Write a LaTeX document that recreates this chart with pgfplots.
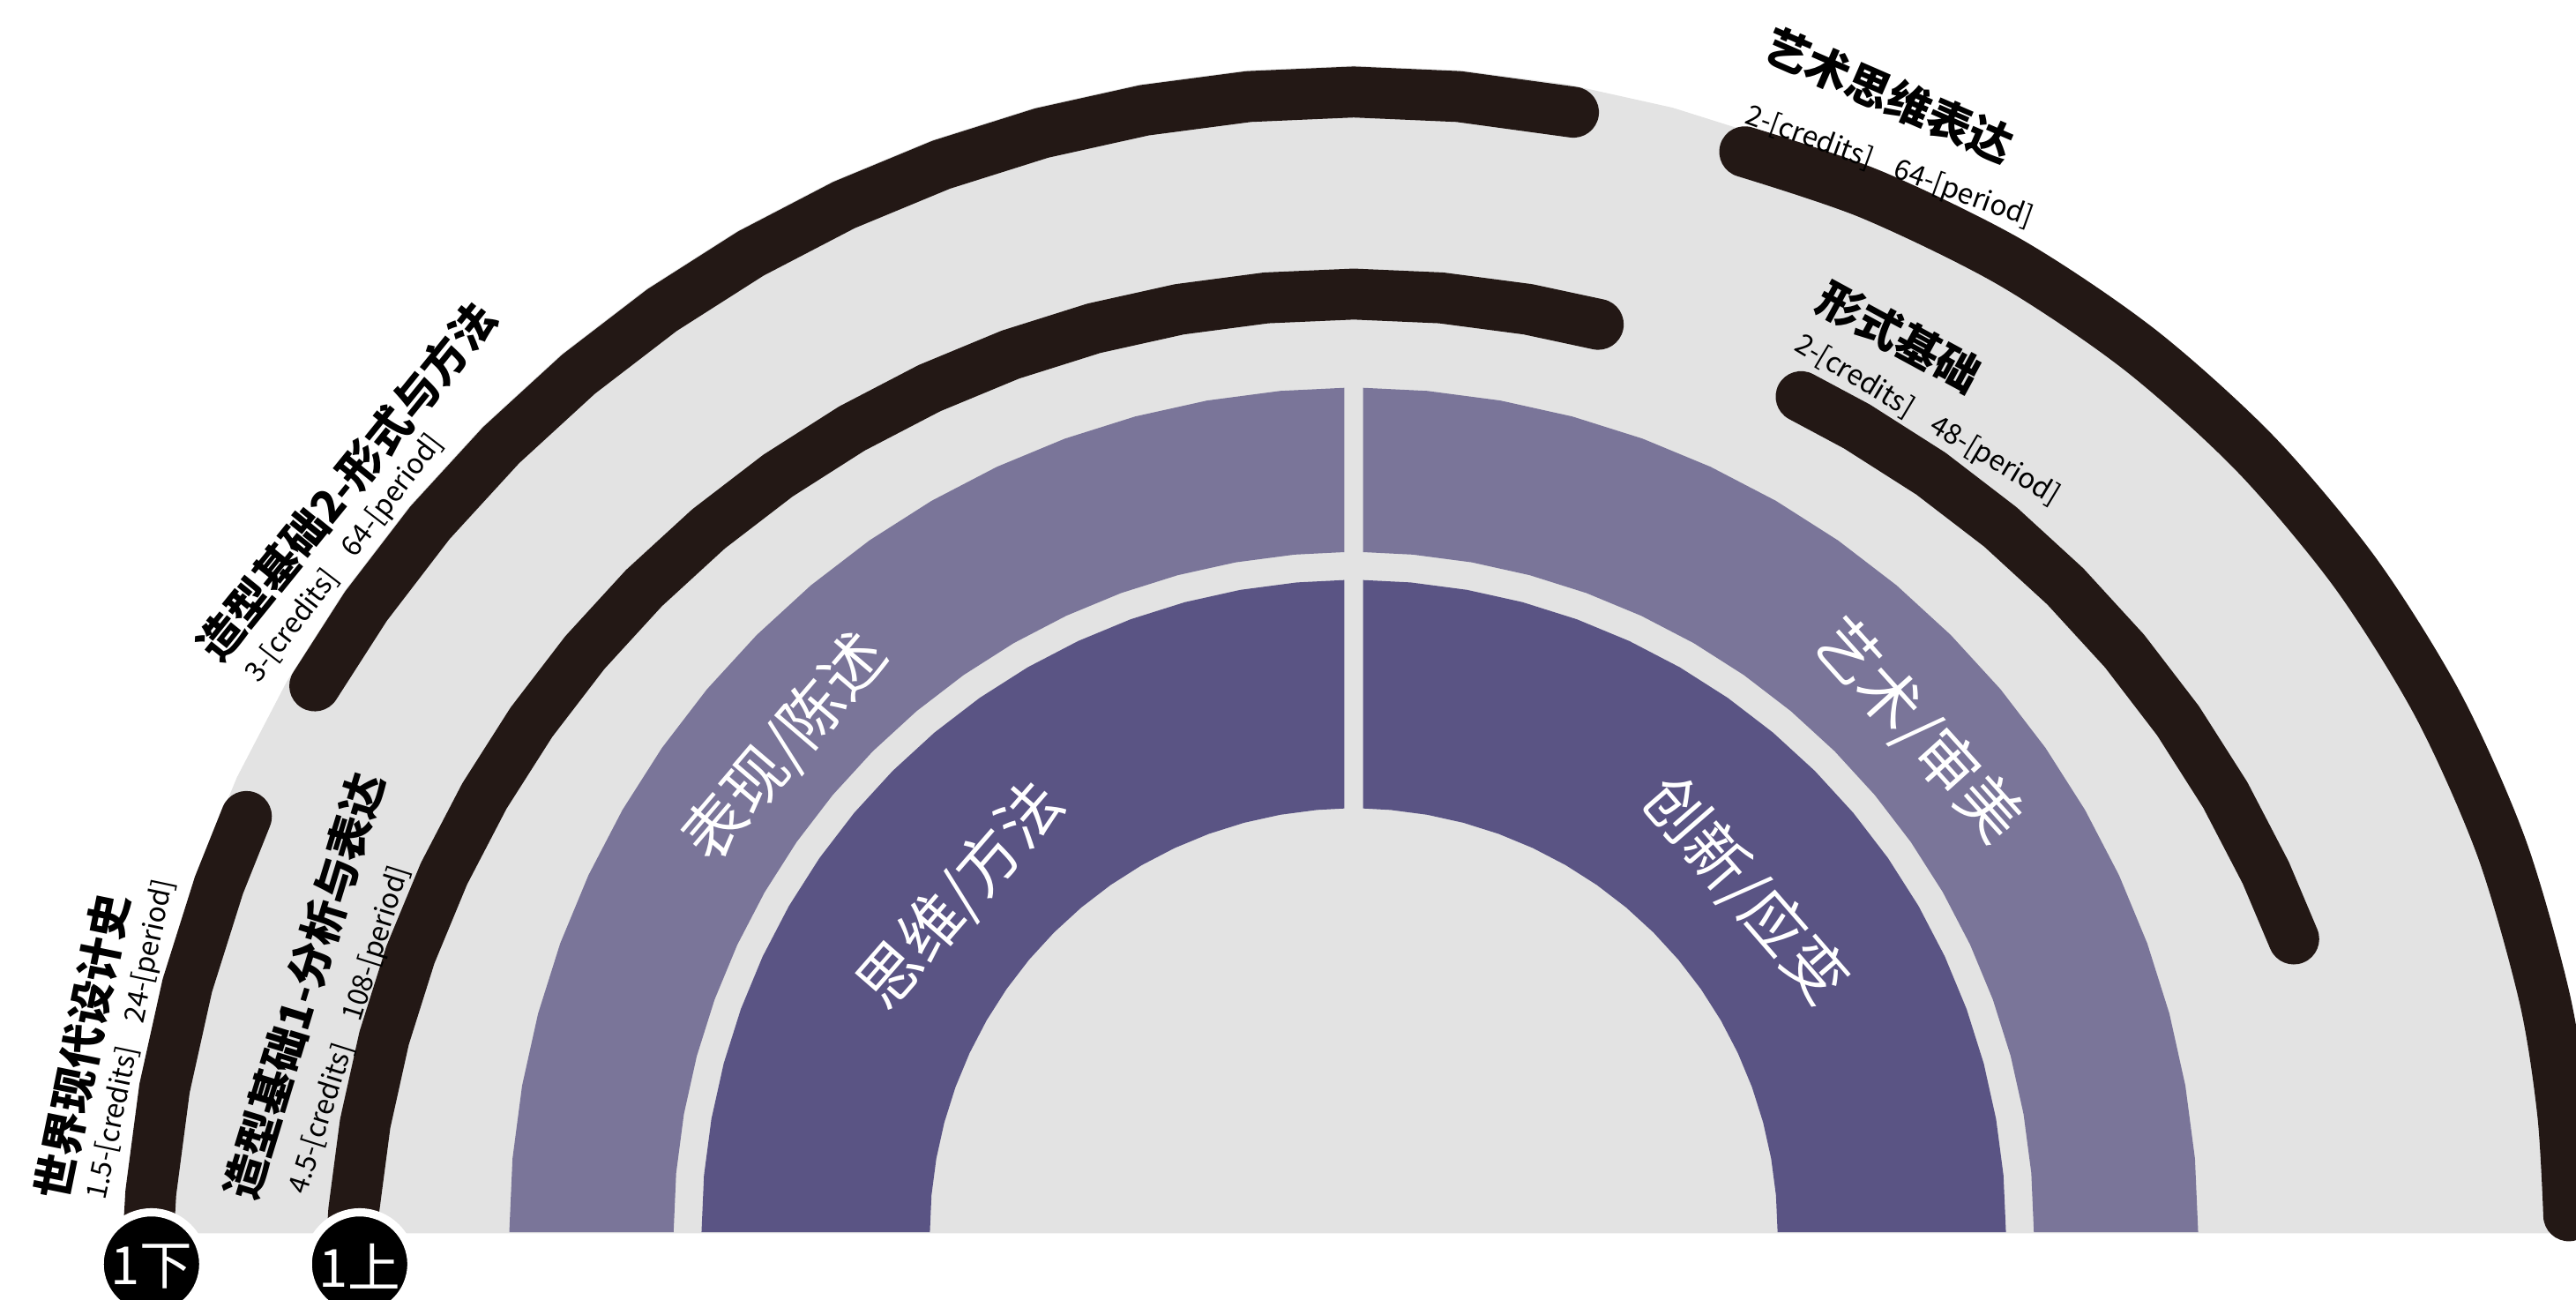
\documentclass[border=0pt]{standalone}
\usepackage{pgfplots}
\pgfplotsset{compat=1.18}
\usepackage{fontspec}
\newfontfamily\cjk{Noto Sans CJK SC}

\definecolor{ringgray}{HTML}{E3E3E3}
\definecolor{arcblack}{HTML}{231815}
\definecolor{bandlight}{HTML}{7A7599}
\definecolor{banddark}{HTML}{5A5484}

% one axis unit = one pixel of a 1568 x 791 frame (0.5pt)
\pgfplotsset{
  frame/.style={
    width=784pt, height=395.6pt, scale only axis, hide axis,
    xmin=-824, xmax=744,
  },
  course/.style={draw=arcblack, line width=15.5pt, line cap=round, line join=round, data cs=polar},
  band/.style={draw=none, data cs=polar},
}
\tikzset{
  ctitle/.style={font=\cjk\bfseries\fontsize{13.5}{13.5}\selectfont, text=black, inner sep=0pt},
  csub/.style={font=\cjk\fontsize{8.5}{8.5}\selectfont, text=black, inner sep=0pt},
  bandtext/.style={font=\cjk\fontsize{19}{19}\selectfont, text=white, inner sep=0pt},
  semtext/.style={font=\cjk\fontsize{16}{16}\selectfont, text=white, inner sep=0pt},
}

\begin{document}
\begin{tikzpicture}

% gray disc and the course arcs, centred 40px below the chart's base line
\begin{axis}[frame, name=B, ymin=-1.2, ymax=790]
  \addplot[fill=ringgray, draw=none, data cs=polar] coordinates {
    (3.01,750) (5,750) (10,750) (15,750) (20,750) (25,750) (30,750) (35,750)
    (40,750) (45,750) (50,750) (55,750) (60,750) (65,750) (70,750) (75,750)
    (80,750) (85,750) (90,750) (95,750) (100,750) (105,750) (110,750) (115,750)
    (120,750) (125,750) (130,750) (135,750) (140,750) (145,750) (150,750)
    (155,750) (160,750) (165,750) (170,750) (175,750) (176.99,750)
  };

  % 1下: 世界现代设计史
  \addplot[course] coordinates {
    (156.5,735) (160,735) (165,735) (170,735) (175,735) (178.4,735)
  };
  % 造型基础2
  \addplot[course] coordinates {
    (149.5,734) (145,734) (140,734) (135,734) (130,734) (125,734) (120,734)
    (115,734) (110,734) (105,734) (100,734) (95,734) (90,734) (85,734) (79.5,734)
  };
  % 艺术思维表达 (slightly off-centre arc, read as x/y)
  \addplot[draw=arcblack, line width=15.5pt, line cap=round, line join=round, smooth] coordinates {
    (238.0,697.6) (314.4,671.9) (399.7,630.3) (478.4,577.2) (548.8,513.8)
    (609.8,441.1) (660.1,360.7) (698.7,273.9) (724.8,182.8) (735.9,112.5) (739.6,50.0)
  };
  % 1上: 造型基础1
  \addplot[course] coordinates {
    (178,611) (175,611) (170,611) (165,611) (160,611) (155,611) (150,611)
    (145,611) (140,611) (135,611) (130,611) (125,611) (120,611) (115,611)
    (110,611) (105,611) (100,611) (95,611) (90,611) (85,611) (80,611) (75.9,611)
  };
  % 形式基础
  \addplot[course] coordinates {
    (63.6,612.5) (60,612.5) (55,612.5) (50,612.5) (45,612.5) (40,612.5)
    (35,612.5) (30,612.5) (25,612.5) (20.9,612.5)
  };

  % semester markers
  \addplot[only marks, mark=*, mark size=15.75pt,
           mark options={fill=black, draw=white, line width=2.5pt}]
    coordinates {(-731.8,20.6) (-605.1,20.6)};

  % course labels
  \node[ctitle, rotate=78.5] at (axis cs:-774,153) {世界现代设计史};
  \node[csub, rotate=78] at (axis cs:-744,157) {1.5-[credits]\hspace{0.9em}24-[period]};
  \node[ctitle, rotate=73] at (axis cs:-639,190) {造型基础1-分析与表达};
  \node[csub, rotate=72.5] at (axis cs:-611,163) {4.5-[credits]\hspace{0.9em}108-[period]};
  \node[ctitle, rotate=51] at (axis cs:-613,497) {造型基础2-形式与方法};
  \node[csub, rotate=52.5] at (axis cs:-614,450) {3-[credits]\hspace{0.9em}64-[period]};
  \node[ctitle, rotate=-23.5] at (axis cs:326,732) {艺术思维表达};
  \node[csub, rotate=-20] at (axis cs:326,688) {2-[credits]\hspace{0.9em}64-[period]};
  \node[ctitle, rotate=-28.5] at (axis cs:332,585) {形式基础};
  \node[csub, rotate=-31] at (axis cs:349,534) {2-[credits]\hspace{0.9em}48-[period]};
\end{axis}

% the two purple rings, centred on the base line
\begin{axis}[frame, ymin=-41.2, ymax=750]
  % outer ring, left half
  \addplot[band, fill=bandlight] coordinates {
    (180,514) (175,514) (170,514) (165,514) (160,514) (155,514) (150,514)
    (145,514) (140,514) (135,514) (130,514) (125,514) (120,514) (115,514)
    (110,514) (105,514) (100,514) (95,514) (90.64,514)
    (90.79,414) (95,414) (100,414) (105,414) (110,414) (115,414) (120,414)
    (125,414) (130,414) (135,414) (140,414) (145,414) (150,414) (155,414)
    (160,414) (165,414) (170,414) (175,414) (180,414)
  };
  % outer ring, right half
  \addplot[band, fill=bandlight] coordinates {
    (0,514) (5,514) (10,514) (15,514) (20,514) (25,514) (30,514) (35,514)
    (40,514) (45,514) (50,514) (55,514) (60,514) (65,514) (70,514) (75,514)
    (80,514) (85,514) (89.36,514)
    (89.21,414) (85,414) (80,414) (75,414) (70,414) (65,414) (60,414)
    (55,414) (50,414) (45,414) (40,414) (35,414) (30,414) (25,414) (20,414)
    (15,414) (10,414) (5,414) (0,414)
  };
  % inner ring, left half
  \addplot[band, fill=banddark] coordinates {
    (180,397) (175,397) (170,397) (165,397) (160,397) (155,397) (150,397)
    (145,397) (140,397) (135,397) (130,397) (125,397) (120,397) (115,397)
    (110,397) (105,397) (100,397) (95,397) (90.82,397)
    (91.27,258) (95,258) (100,258) (105,258) (110,258) (115,258) (120,258)
    (125,258) (130,258) (135,258) (140,258) (145,258) (150,258) (155,258)
    (160,258) (165,258) (170,258) (175,258) (180,258)
  };
  % inner ring, right half
  \addplot[band, fill=banddark] coordinates {
    (0,397) (5,397) (10,397) (15,397) (20,397) (25,397) (30,397) (35,397)
    (40,397) (45,397) (50,397) (55,397) (60,397) (65,397) (70,397) (75,397)
    (80,397) (85,397) (89.18,397)
    (88.73,258) (85,258) (80,258) (75,258) (70,258) (65,258) (60,258)
    (55,258) (50,258) (45,258) (40,258) (35,258) (30,258) (25,258) (20,258)
    (15,258) (10,258) (5,258) (0,258)
  };

  \node[bandtext, rotate=49.5] at (axis cs:-346,295) {表现/陈述};
  \node[bandtext, rotate=49] at (axis cs:-239,205) {思维/方法};
  \node[bandtext, rotate=-48] at (axis cs:343,305) {艺术/审美};
  \node[bandtext, rotate=-49] at (axis cs:238,208) {创新/应变};

  % semester labels (on top of the markers drawn in the first axis)
  \node[semtext] at (axis cs:-731.8,-21) {1下};
  \node[semtext] at (axis cs:-605.1,-21) {1上};
\end{axis}

\pgfresetboundingbox
\path (B.south west) rectangle (B.north east);
\end{tikzpicture}
\end{document}
